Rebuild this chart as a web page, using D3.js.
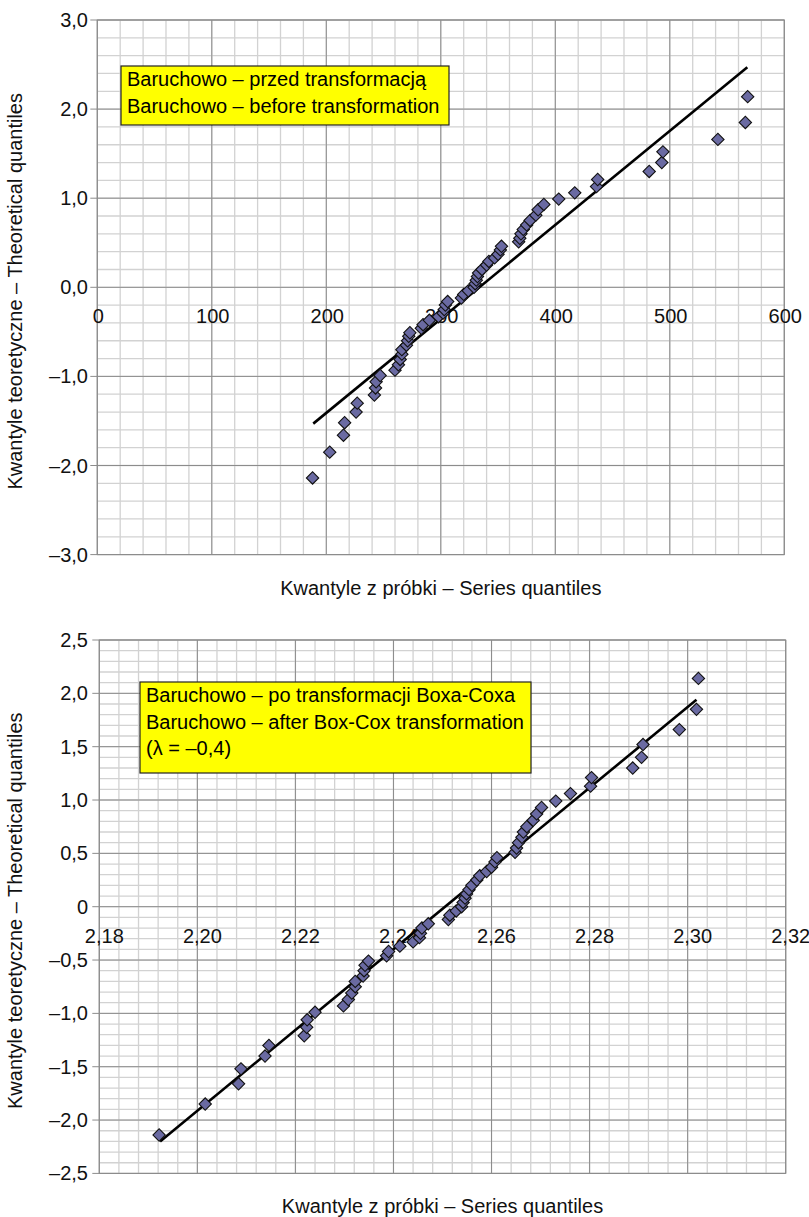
<!DOCTYPE html>
<html>
<head>
<meta charset="utf-8">
<script src="https://cdn.jsdelivr.net/npm/d3@7"></script>
<style>
  body { margin: 0; background: #fff; }
  svg { display: block; font-family: "Liberation Sans", Arial, sans-serif; }
</style>
</head>
<body>
<svg id="qq" width="809" height="1217"></svg>
<script>
// theoretical normal quantiles (same for both panels)
const theoretical = [
  -2.14, -1.85, -1.66, -1.52, -1.40, -1.30, -1.21, -1.13, -1.06, -0.99,
  -0.93, -0.87, -0.81, -0.75, -0.70, -0.65, -0.60, -0.55, -0.51, -0.46,
  -0.42, -0.37, -0.33, -0.29, -0.25, -0.20, -0.16, -0.12, -0.08, -0.04,
   0.00,
   0.04,  0.08,  0.12,  0.16,  0.20,  0.25,  0.29,  0.33,  0.37,  0.42,
   0.46,  0.51,  0.55,  0.60,  0.65,  0.70,  0.75,  0.81,  0.87,  0.93,
   0.99,  1.06,  1.13,  1.21,  1.30,  1.40,  1.52,  1.66,  1.85,  2.14
];

// sample quantiles before transformation
const beforeQ = [
  188, 203, 215, 216, 226, 227, 242, 243, 243.5, 247,
  260, 263, 264.5, 266, 266, 270, 271, 272, 273, 283,
  284.5, 290, 298, 302, 303, 304, 306, 318, 320, 324,
  329,
  330, 331, 332, 333, 336, 340, 342, 347, 350, 352,
  353, 368, 369, 370, 372, 375, 378, 383, 385, 390,
  403, 417, 436, 437, 482, 493, 494, 542, 566, 568
];

// sample quantiles after Box-Cox transformation
const afterQ = [
  2.1922, 2.2016, 2.2084, 2.2089, 2.2138, 2.2146, 2.2218, 2.2223, 2.2224, 2.2240,
  2.2298, 2.2308, 2.2315, 2.2322, 2.2322, 2.2338, 2.2340, 2.2342, 2.2349, 2.2386,
  2.2390, 2.2413, 2.2440, 2.2453, 2.2455, 2.2458, 2.2471, 2.2512, 2.2515, 2.2528,
  2.2539,
  2.2542, 2.2546, 2.2549, 2.2554, 2.2560, 2.2570, 2.2576, 2.2590, 2.2600, 2.2607,
  2.2611, 2.2648, 2.2651, 2.2655, 2.2662, 2.2665, 2.2672, 2.2685, 2.2692, 2.2702,
  2.2731, 2.2761, 2.2802, 2.2804, 2.2888, 2.2906, 2.2909, 2.2983, 2.3018, 2.3022
];

// fitted lines (end points)
const beforeFitX = [188.6, 567.7];
const beforeFitY = [-1.53, 2.47];
const afterFitX = [2.1924, 2.3018];
const afterFitY = [-2.20, 1.94];

// ticks
const beforeXTicks = [0, 100, 200, 300, 400, 500, 600];
const beforeXLabels = ["0", "100", "200", "300", "400", "500", "600"];
const beforeYTicks = [-3, -2, -1, 0, 1, 2, 3];
const beforeYLabels = ["–3,0", "–2,0", "–1,0", "0,0", "1,0", "2,0", "3,0"];
const afterXTicks = [2.18, 2.20, 2.22, 2.24, 2.26, 2.28, 2.30, 2.32];
const afterXLabels = ["2,18", "2,20", "2,22", "2,24", "2,26", "2,28", "2,30", "2,32"];
const afterYTicks = [-2.5, -2, -1.5, -1, -0.5, 0, 0.5, 1, 1.5, 2, 2.5];
const afterYLabels = ["–2,5", "–2,0", "–1,5", "–1,0", "–0,5", "0", "0,5", "1,0", "1,5", "2,0", "2,5"];

const beforeNote = ["Baruchowo – przed transformacją", "Baruchowo – before transformation"];
const afterNote = ["Baruchowo – po transformacji Boxa-Coxa", "Baruchowo – after Box-Cox transformation", "(λ = –0,4)"];
const xTitle = "Kwantyle z próbki – Series quantiles";
const yTitle = "Kwantyle teoretyczne – Theoretical quantiles";

const svg = d3.select("#qq");
svg.append("rect").attr("width", 809).attr("height", 1217).attr("fill", "#fff");

const FS = 20;
const minorCol = "#d2d2d2", majorCol = "#8c8c8c";

function panel(o) {
  const g = svg.append("g");
  const x = d3.scaleLinear().domain(o.xDom).range([o.left, o.right]);
  const y = d3.scaleLinear().domain(o.yDom).range([o.bottom, o.top]);

  // minor grid
  const xMinor = d3.range(o.xDom[0], o.xDom[1] + o.xMinor / 2, o.xMinor);
  const yMinor = d3.range(o.yDom[0], o.yDom[1] + o.yMinor / 2, o.yMinor);
  g.append("g").selectAll("line").data(xMinor).join("line")
    .attr("x1", d => x(d)).attr("x2", d => x(d)).attr("y1", o.top).attr("y2", o.bottom)
    .attr("stroke", minorCol).attr("stroke-width", 1.3);
  g.append("g").selectAll("line").data(yMinor).join("line")
    .attr("y1", d => y(d)).attr("y2", d => y(d)).attr("x1", o.left).attr("x2", o.right)
    .attr("stroke", minorCol).attr("stroke-width", 1.3);

  // major grid
  g.append("g").selectAll("line").data(o.xTicks).join("line")
    .attr("x1", d => x(d)).attr("x2", d => x(d)).attr("y1", o.top).attr("y2", o.bottom)
    .attr("stroke", majorCol).attr("stroke-width", 1);
  g.append("g").selectAll("line").data(o.yTicks).join("line")
    .attr("y1", d => y(d)).attr("y2", d => y(d)).attr("x1", o.left - 7).attr("x2", o.right)
    .attr("stroke", majorCol).attr("stroke-width", 1);

  // plot border
  g.append("rect")
    .attr("x", o.left).attr("y", o.top)
    .attr("width", o.right - o.left).attr("height", o.bottom - o.top)
    .attr("fill", "none").attr("stroke", majorCol).attr("stroke-width", 1);

  // y tick labels
  g.append("g").selectAll("text").data(o.yTicks).join("text")
    .attr("x", 88).attr("y", d => y(d) + 7)
    .attr("text-anchor", "end").attr("font-size", FS).attr("fill", "#111")
    .text((d, i) => o.yLabels[i]);

  // x tick labels sit under the zero line
  g.append("g").selectAll("text").data(o.xTicks).join("text")
    .attr("x", d => x(d) + o.xLabelShift).attr("y", y(0) + 36)
    .attr("text-anchor", "middle").attr("font-size", FS).attr("fill", "#111")
    .text((d, i) => o.xLabels[i]);

  // axis titles
  g.append("text")
    .attr("x", (o.left + o.right) / 2).attr("y", o.bottom + 40)
    .attr("text-anchor", "middle").attr("font-size", FS).attr("fill", "#111")
    .text(xTitle);
  g.append("text")
    .attr("transform", `translate(22,${(o.top + o.bottom) / 2 + 4}) rotate(-90)`)
    .attr("text-anchor", "middle").attr("font-size", FS).attr("fill", "#111")
    .text(yTitle);

  // note box
  const nb = o.note;
  g.append("rect")
    .attr("x", nb.x).attr("y", nb.y).attr("width", nb.w).attr("height", nb.h)
    .attr("fill", "#ffff00").attr("stroke", "#222").attr("stroke-width", 1.2);
  g.append("g").selectAll("text").data(nb.lines).join("text")
    .attr("x", nb.x + 6).attr("y", (d, i) => nb.y + 20 + i * 26.5)
    .attr("font-size", FS).attr("fill", "#000")
    .text(d => d);

  // fitted line
  const line = d3.line().x(d => x(d[0])).y(d => y(d[1]));
  g.append("path")
    .datum(o.fitX.map((v, i) => [v, o.fitY[i]]))
    .attr("d", line).attr("fill", "none")
    .attr("stroke", "#000").attr("stroke-width", 2.6);

  // points
  const sym = d3.symbol().type(d3.symbolSquare).size(76);
  g.append("g").selectAll("path").data(o.xs).join("path")
    .attr("transform", (d, i) => `translate(${x(d)},${y(theoretical[i])}) rotate(45)`)
    .attr("d", sym)
    .attr("fill", "#6a6aa2").attr("stroke", "#111").attr("stroke-width", 1.1);
}

panel({
  left: 97.3, right: 784.3, top: 20, bottom: 554.6,
  xDom: [0, 600], yDom: [-3, 3], xMinor: 20, yMinor: 0.2,
  xTicks: beforeXTicks, xLabels: beforeXLabels, xLabelShift: 1,
  yTicks: beforeYTicks, yLabels: beforeYLabels,
  xs: beforeQ, fitX: beforeFitX, fitY: beforeFitY,
  note: { x: 121, y: 66, w: 328, h: 59, lines: beforeNote }
});

panel({
  left: 99.3, right: 785.7, top: 640, bottom: 1173.4,
  xDom: [2.18, 2.32], yDom: [-2.5, 2.5], xMinor: 0.004, yMinor: 0.1,
  xTicks: afterXTicks, xLabels: afterXLabels, xLabelShift: 5,
  yTicks: afterYTicks, yLabels: afterYLabels,
  xs: afterQ, fitX: afterFitX, fitY: afterFitY,
  note: { x: 140, y: 682, w: 391, h: 91, lines: afterNote }
});
</script>
</body>
</html>
